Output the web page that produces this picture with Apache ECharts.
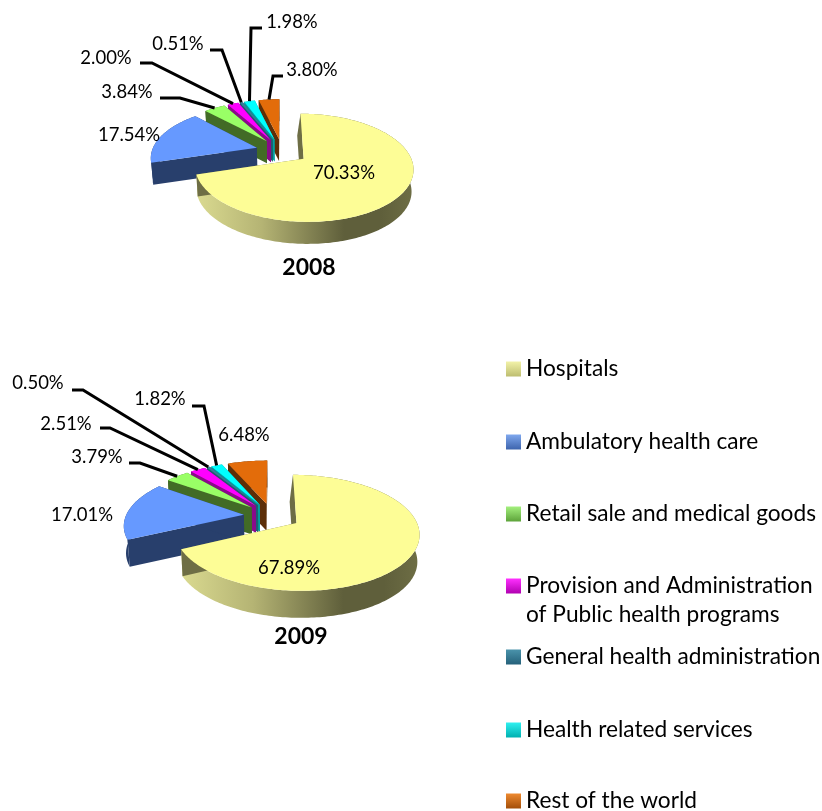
<!DOCTYPE html>
<html><head><meta charset="utf-8">
<style>html,body{margin:0;padding:0;background:#fff}#c{width:822px;height:811px}</style>
<script src="https://cdn.jsdelivr.net/npm/echarts@6/dist/echarts.min.js"></script>
</head><body><div id="c"></div>
<script>
// ---- data ----
const YEARS = ['2008', '2009'];
const CATEGORIES = ['Hospitals', 'Ambulatory health care', 'Retail sale and medical goods',
  'Provision and Administration of Public health programs', 'General health administration',
  'Health related services', 'Rest of the world'];
const HOSPITALS = [70.33, 67.89];
const AMBULATORY = [17.54, 17.01];
const RETAIL = [3.84, 3.79];
const PROVISION = [2.00, 2.51];
const GENERAL_ADMIN = [0.51, 0.50];
const HEALTH_RELATED = [1.98, 1.82];
const REST_OF_WORLD = [3.80, 6.48];
const VALUES = [HOSPITALS, AMBULATORY, RETAIL, PROVISION, GENERAL_ADMIN, HEALTH_RELATED, REST_OF_WORLD];

// ---- style / layout ----
const FONT = 'Lato, "Open Sans", sans-serif';
const TOP_COLORS = ['#fdfd96', '#6699ff', '#99ff66', '#ff00ff', '#33809a', '#00ffff', '#e36c0a'];
const WALL_COLORS = ['#8f8f5a', '#283f6c', '#426b26', '#8a0a8a', '#1f5c70', '#00a0a0', '#5c2e08'];
const ICON_COLORS = [['#f2f2a8', '#bdbd70'], ['#7fa8ee', '#3d64ad'], ['#a4f07e', '#5da33a'],
  ['#ff30ff', '#b000b0'], ['#4a93ab', '#25617a'], ['#30f0f0', '#00b0b0'], ['#ee8a30', '#a34e08']];
const PIES = [
  { tx: 282, ty: 151, r: 105, r2: 50, d: 0.25, p: 0.165, h: 22, k: 0.985 },
  { tx: 272, ty: 516, r: 118, r2: 54, d: 0.24, p: 0.165, h: 27, k: 0.985 }
];
// label centres per year and category
const LABEL_POS = [
  [[344, 173], [129, 135], [127, 92], [106, 58], [178, 44], [292, 22], [312, 70]],
  [[289, 568], [82, 515], [97, 457], [66, 424], [38, 383], [160, 399], [244, 435]]
];
// leader-line start and elbow per year and category
const LEADERS = [
  [null, null, [[160, 98], [180, 98]], [[140, 63], [152, 63]], [[210, 50], [222, 50]], [[262, 28], [251, 28]], [[283, 76], [273, 76]]],
  [null, null, [[129, 463], [140, 463]], [[100, 428], [110, 428]], [[72, 390], [83, 390]], [[192, 406], [204, 406]], null]
];
const LEGEND_Y = [369, 442, 514, 586, 657, 730, 801];
const YEAR_POS = [[309, 268], [301, 637]];

const G = echarts.graphic;
function project(P, u, v) {
  const s = 1 / (1 + P.p * v);
  return [P.tx + P.r * u * s, P.ty - P.r2 * v * s];
}
function lower(P, pt) {
  return [P.tx + (pt[0] - P.tx) * P.k, pt[1] + P.h];
}
function sliceRender(cat) {
  return function (params, api) {
    const y = api.value(0), val = api.value(1), P = PIES[y];
    let before = 0;
    for (let i = 0; i < cat; i++) before += VALUES[i][y];
    const a0 = before / 100 * 2 * Math.PI, a1 = (before + val) / 100 * 2 * Math.PI, am = (a0 + a1) / 2;
    const ox = P.d * Math.sin(am), oy = P.d * Math.cos(am);
    const apex = project(P, ox, oy);
    const arc = [];
    const n = Math.max(3, Math.ceil((a1 - a0) / 0.02));
    for (let i = 0; i <= n; i++) {
      const a = a0 + (a1 - a0) * i / n;
      arc.push(project(P, ox + Math.sin(a), oy + Math.cos(a)));
    }
    const mid = project(P, ox + Math.sin(am), oy + Math.cos(am));
    const wallArc = arc.concat(arc.map(p => lower(P, p)).reverse());
    const ch = [];
    const wallFill = cat === 0
      ? new G.LinearGradient(0, 0, 1, 0, [
          { offset: 0, color: '#dada90' }, { offset: 0.3, color: '#b5b474' },
          { offset: 0.68, color: '#5f5f3b' }, { offset: 0.85, color: '#5f5f3b' }, { offset: 1, color: '#6e6e45' }])
      : WALL_COLORS[cat];
    ch.push({ type: 'polygon', shape: { points: wallArc }, style: { fill: wallFill } });
    [arc[0], arc[arc.length - 1]].forEach(function (e, idx) {
      const skew = (cat === 0 && idx === 0) ? 3 : 0;
      const a = lower(P, apex), b = lower(P, e);
      ch.push({ type: 'polygon',
        shape: { points: [apex, e, [b[0] - skew, b[1]], [a[0] - skew, a[1]]] },
        style: { fill: cat === 0 ? '#6e6e45' : WALL_COLORS[cat] } });
    });
    ch.push({ type: 'polygon', shape: { points: [apex].concat(arc) }, style: { fill: TOP_COLORS[cat] } });
    const lead = LEADERS[y][cat];
    if (lead) {
      ch.push({ type: 'polyline', shape: { points: [lead[0], lead[1], mid] },
        style: { stroke: '#000', lineWidth: 3, fill: 'none' } });
    }
    const lp = LABEL_POS[y][cat];
    ch.push({ type: 'text', z2: 10, style: { text: val.toFixed(2) + '%', x: lp[0], y: lp[1],
      align: 'center', verticalAlign: 'middle', fill: '#000', font: '18.5px ' + FONT } });
    return { type: 'group', children: ch };
  };
}

const series = CATEGORIES.map(function (name, cat) {
  return {
    type: 'custom', name: name, coordinateSystem: 'none', silent: true,
    z: 10 - cat,
    itemStyle: { color: TOP_COLORS[cat] },
    renderItem: sliceRender(cat),
    data: VALUES[cat].map((v, i) => ({ name: YEARS[i], value: [i, v] }))
  };
});
const legends = CATEGORIES.map(function (name, cat) {
  return {
    show: true, orient: 'vertical', left: 506, top: LEGEND_Y[cat] - 13, padding: 0,
    data: [{ name: name, icon: 'rect', itemStyle: {
      color: new G.LinearGradient(0, 0, 0, 1, [
        { offset: 0, color: ICON_COLORS[cat][0] }, { offset: 1, color: ICON_COLORS[cat][1] }]) } }],
    itemWidth: 15, itemHeight: 15, selectedMode: false,
    formatter: n => n.indexOf(' of Public') > 0 ? n.split(' of Public')[0] : n,
    textStyle: { fontFamily: FONT, fontSize: 22.7, color: '#000', lineHeight: 26 }
  };
});
const chart = echarts.init(document.getElementById('c'), null, { renderer: 'canvas' });
chart.setOption({
  animation: false,
  backgroundColor: '#fff',
  title: YEARS.map((t, i) => ({ text: t, left: YEAR_POS[i][0], top: YEAR_POS[i][1], textAlign: 'center',
    textVerticalAlign: 'middle', padding: 0,
    textStyle: { fontFamily: FONT, fontSize: 23, fontWeight: 'bold', color: '#000' } })),
  legend: legends,
  graphic: [{ type: 'text', left: 526, top: 603, silent: true,
    style: { text: 'of Public health programs', font: '22.7px ' + FONT, fill: '#000' } }],
  series: series
});
</script></body></html>
